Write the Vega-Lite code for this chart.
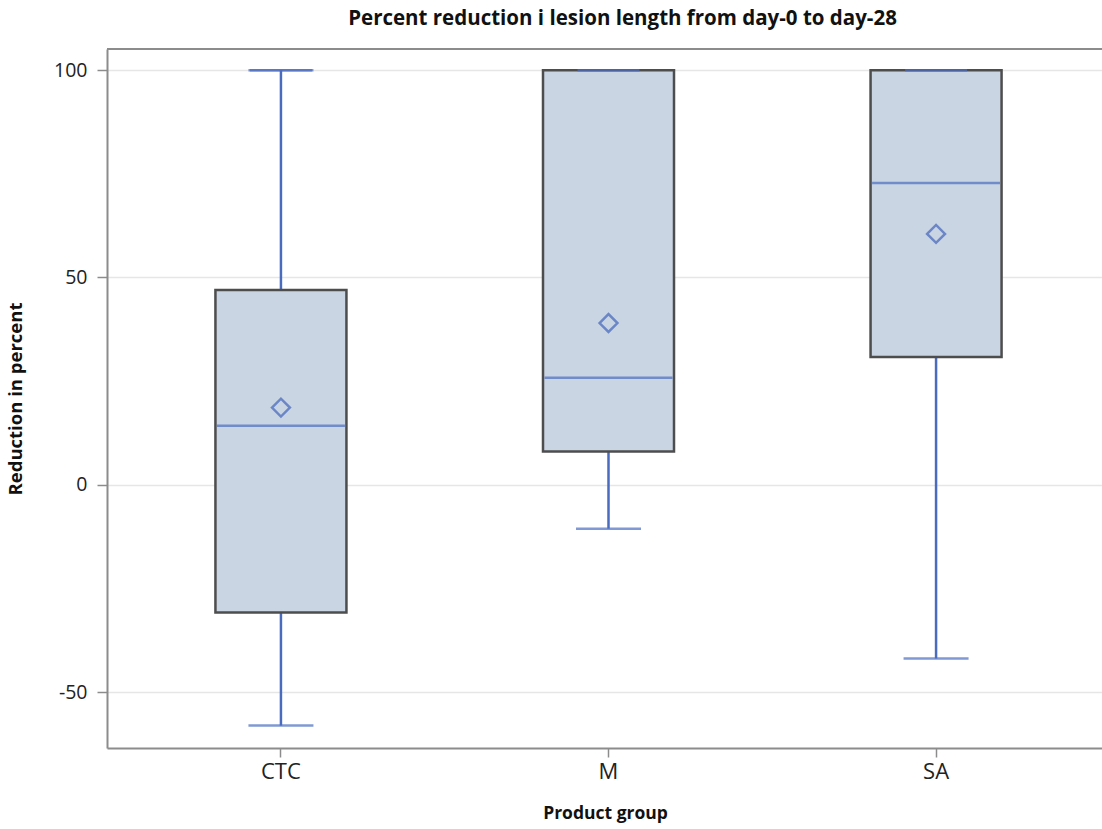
{
  "$schema": "https://vega.github.io/schema/vega-lite/v6.json",
  "autosize": "none",
  "width": 995,
  "height": 699,
  "padding": {"left": 107, "top": 49, "right": 0, "bottom": 76},
  "background": "white",
  "title": {
    "text": "Percent reduction i lesion length from day-0 to day-28",
    "font": "Open Sans",
    "fontSize": 20.5,
    "fontWeight": "bold",
    "color": "#111111",
    "anchor": "middle",
    "dx": 18,
    "offset": 19
  },
  "config": {
    "view": {"stroke": null},
    "font": "Open Sans"
  },
  "data": {
    "values": [
      {"group": "CTC", "lower": -58.1, "q1": -30.8, "median": 14.2, "q3": 47.0, "upper": 100, "mean": 18.6},
      {"group": "M", "lower": -10.6, "q1": 8.0, "median": 25.8, "q3": 100, "upper": 100, "mean": 39.0},
      {"group": "SA", "lower": -41.9, "q1": 30.8, "median": 72.8, "q3": 100, "upper": 100, "mean": 60.5}
    ]
  },
  "layer": [
    {
      "encoding": {
        "x": {
          "field": "group",
          "type": "nominal",
          "sort": ["CTC", "M", "SA"],
          "scale": {"paddingInner": 0, "paddingOuter": 0.031, "range": [0, 1003]},
          "axis": {
            "title": "Product group",
            "titleFont": "Open Sans",
            "titleFontSize": 17.5,
            "titleFontWeight": "bold",
            "titleColor": "#111111",
            "titlePadding": 22,
            "titleX": 498,
            "labelFont": "Open Sans",
            "labelFontSize": 22,
            "labelColor": "#222222",
            "labelAngle": 0,
            "labelPadding": 4,
            "tickColor": "#8c8c8c",
            "tickSize": 9,
            "tickWidth": 1.5,
            "domain": true,
            "domainColor": "#8c8c8c",
            "domainWidth": 2,
            "grid": false
          }
        }
      },
      "layer": [
        {
          "mark": {"type": "rule", "color": "#4a6cc0", "strokeWidth": 2.5},
          "encoding": {
            "y": {
              "field": "lower",
              "type": "quantitative",
              "scale": {"domain": [-63.5, 105.1], "nice": false, "zero": false},
              "axis": {
                "title": "Reduction in percent",
                "titleFont": "Open Sans",
                "titleFontSize": 18.5,
                "titleFontWeight": "bold",
                "titleColor": "#111111",
                "titlePadding": 28,
                "values": [-50, 0, 50, 100],
                "labelExpr": "toString(datum.value)",
                "labelFont": "Open Sans",
                "labelFontSize": 19.5,
                "labelColor": "#222222",
                "labelPadding": 10,
                "tickColor": "#8c8c8c",
                "tickSize": 10,
                "tickWidth": 1.5,
                "domain": true,
                "domainColor": "#8c8c8c",
                "domainWidth": 2,
                "grid": true,
                "gridColor": "#e6e6e6",
                "gridWidth": 1.5
              }
            },
            "y2": {"field": "q1"}
          }
        },
        {
          "mark": {"type": "rule", "color": "#4a6cc0", "strokeWidth": 2.5},
          "encoding": {
            "y": {"field": "q3", "type": "quantitative"},
            "y2": {"field": "upper"}
          }
        },
        {
          "mark": {"type": "tick", "color": "#4a6cc0", "thickness": 2.5, "size": 65},
          "encoding": {"y": {"field": "lower", "type": "quantitative"}}
        },
        {
          "mark": {"type": "tick", "color": "#4a6cc0", "thickness": 2.5, "size": 65},
          "encoding": {"y": {"field": "upper", "type": "quantitative"}}
        },
        {
          "mark": {"type": "bar", "size": 131, "fill": "#cad5e3", "stroke": "#4d4d4d", "strokeWidth": 2.5},
          "encoding": {
            "y": {"field": "q1", "type": "quantitative"},
            "y2": {"field": "q3"}
          }
        },
        {
          "mark": {"type": "tick", "color": "#4a6cc0", "thickness": 2.5, "size": 128},
          "encoding": {"y": {"field": "median", "type": "quantitative"}}
        },
        {
          "mark": {"type": "tick", "color": "#4a6cc0", "thickness": 2.5, "size": 62},
          "encoding": {"y": {"field": "upper", "type": "quantitative"}}
        },
        {
          "mark": {"type": "point", "shape": "diamond", "filled": false, "color": "#4466bb", "strokeWidth": 2.5, "size": 320},
          "encoding": {"y": {"field": "mean", "type": "quantitative"}}
        }
      ]
    },
    {
      "mark": {"type": "rule", "color": "#8c8c8c", "strokeWidth": 2},
      "encoding": {"y": {"datum": 105.1}}
    }
  ]
}
